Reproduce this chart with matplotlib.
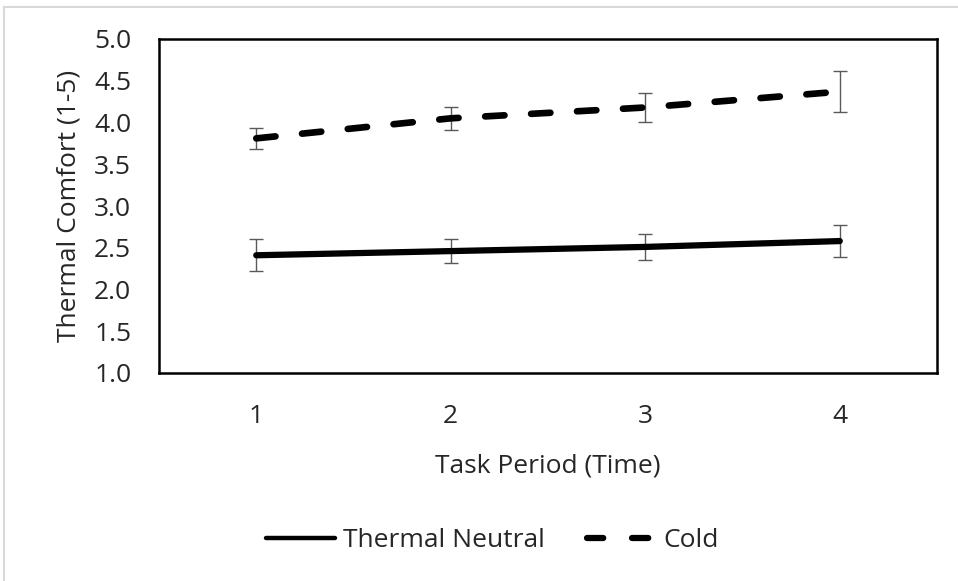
import numpy as np
import matplotlib
matplotlib.use("Agg")
import matplotlib.pyplot as plt
from matplotlib.lines import Line2D

plt.rcParams['font.family'] = ['Open Sans', 'DejaVu Sans']

# data
periods = [1, 2, 3, 4]
neutral = [2.41, 2.46, 2.51, 2.58]
neutral_err = [0.19, 0.14, 0.16, 0.19]
cold = [3.81, 4.05, 4.18, 4.37]
cold_err = [0.13, 0.14, 0.17, 0.25]
yticks = [1.0, 1.5, 2.0, 2.5, 3.0, 3.5, 4.0, 4.5, 5.0]

fig = plt.figure(figsize=(9.58, 5.81), dpi=100)
ax = fig.add_axes([159 / 958, 1 - 373 / 581, (937 - 159) / 958, (373 - 39) / 581])

# light chart-area border
fig.add_artist(Line2D([4 / 958, 4 / 958], [0, 1 - 7 / 581], color='#d9d9d9', lw=1.5))
fig.add_artist(Line2D([4 / 958, 1], [1 - 7 / 581, 1 - 7 / 581], color='#d9d9d9', lw=1.5))

ax.errorbar(periods, neutral, yerr=neutral_err, fmt='none', ecolor='#595959',
            elinewidth=1, capsize=5, capthick=1, zorder=2)
ax.errorbar(periods, cold, yerr=cold_err, fmt='none', ecolor='#595959',
            elinewidth=1, capsize=5, capthick=1, zorder=2)
ax.plot(periods, neutral, color='black', lw=4.5, solid_capstyle='round', zorder=3)
ax.plot(periods, cold, color='black', lw=4.8, dashes=(2.9, 4.0),
        dash_capstyle='round', zorder=3)

ax.set_xlim(0.5, 4.5)
ax.set_ylim(1.0, 5.0)
ax.set_xticks(periods)
ax.set_xticklabels([str(p) for p in periods])
ax.set_yticks(yticks)
ax.set_yticklabels([f"{t:.1f}" for t in yticks])
ax.tick_params(length=0, labelsize=19, pad=22, colors='#262626')
ax.tick_params(axis='y', pad=20)
for s in ax.spines.values():
    s.set_linewidth(1.8)
    s.set_color('black')

ax.set_xlabel('Task Period (Time)', fontsize=19, color='#262626', labelpad=18)
ax.set_ylabel('Thermal Comfort (1-5)', fontsize=19, color='#262626', labelpad=9)

handles = [Line2D([], [], color='black', lw=3.2, solid_capstyle='round'),
           Line2D([], [], color='black', lw=4.5, dashes=(2.6, 4.6), dash_capstyle='round')]
fig.legend(handles, ['Thermal Neutral', 'Cold'], loc='center',
           bbox_to_anchor=(0.514, 0.069), ncol=2, frameon=False,
           fontsize=19, handlelength=2.6, handletextpad=0.3, columnspacing=1.6,
           labelcolor='#262626')

fig.savefig('out.png', dpi=100)
